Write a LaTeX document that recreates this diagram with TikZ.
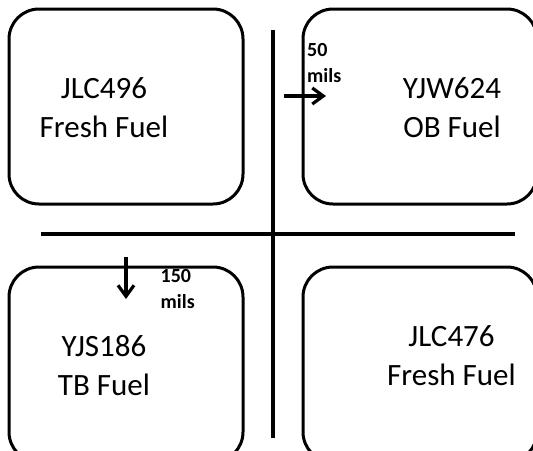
\documentclass[tikz,border=0pt]{standalone}
\usepackage{fontspec}
\setmainfont{Carlito}
\usetikzlibrary{arrows.meta}
\begin{document}
\begin{tikzpicture}[x=1pt,y=-1pt,
  fuelbox/.style={draw, line width=3pt, rounded corners=30pt, minimum width=234pt, minimum height=195pt, inner sep=0pt},
  fuellabel/.style={align=center, anchor=base, inner sep=0pt, font=\fontsize{31}{39}\selectfont},
  milslabel/.style={align=left, anchor=base west, inner sep=0pt, font=\bfseries\fontsize{20}{26}\selectfont},
  divider/.style={line width=4.5pt},
  shiftarrow/.style={line width=3.2pt, -{Straight Barb[length=11pt,width=16pt]}}]
\useasboundingbox (0,0) rectangle (533,450);

\node[fuelbox] (fresha) at (126,106.5) {};
\node[fuelbox] (ob) at (420,106.5) {};
\node[fuelbox] (tb) at (126,364.5) {};
\node[fuelbox] (freshb) at (420,364.5) {};

\node[fuellabel] (freshatext) at (104,137.8) {JLC496\\Fresh Fuel};
\node[fuellabel] (obtext) at (452,137.8) {YJW624\\OB Fuel};
\node[fuellabel] (tbtext) at (104,395.6) {YJS186\\TB Fuel};
\node[fuellabel] (freshbtext) at (451.5,385) {JLC476\\Fresh Fuel};

% core cross
\draw[divider] (273,30) -- (273,438);
\draw[divider] (41,234) -- (515,234);

% shifts
\coordinate (obstart) at (284,96);
\coordinate (obend) at (326,96);
\coordinate (tbstart) at (126,257);
\coordinate (tbend) at (126,299);
\draw[shiftarrow] (obstart) -- (obend);
\draw[shiftarrow] (tbstart) -- (tbend);

\node[milslabel] (obmils) at (307,82) {50\\mils};
\node[milslabel] (tbmils) at (160.5,308) {150\\mils};
\end{tikzpicture}
\end{document}
